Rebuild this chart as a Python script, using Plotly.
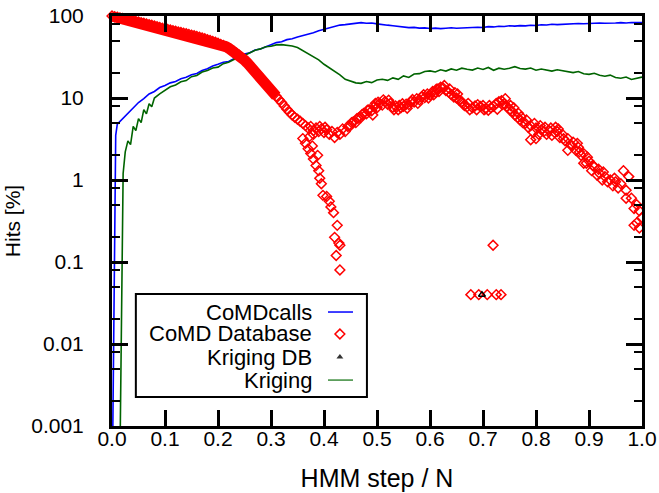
import plotly.graph_objects as go

# ── data ──
calls_x = [0.001, 0.003, 0.005, 0.007, 0.01, 0.02, 0.03, 0.04, 0.05, 0.06, 0.07, 0.08, 0.09,
           0.10, 0.11, 0.12, 0.13, 0.14, 0.15, 0.16, 0.17, 0.18, 0.19, 0.20, 0.21, 0.22, 0.23,
           0.24, 0.25, 0.26, 0.27, 0.28, 0.29, 0.30, 0.31, 0.32, 0.33, 0.34, 0.35, 0.36, 0.37,
           0.38, 0.39, 0.40, 0.41, 0.42, 0.43, 0.44, 0.45, 0.46, 0.47, 0.48, 0.49, 0.50, 0.51,
           0.52, 0.53, 0.54, 0.55, 0.56, 0.57, 0.58, 0.59, 0.60, 0.61, 0.62, 0.63, 0.64, 0.65,
           0.66, 0.67, 0.68, 0.69, 0.70, 0.71, 0.72, 0.73, 0.74, 0.75, 0.76, 0.77, 0.78, 0.79,
           0.80, 0.81, 0.82, 0.83, 0.84, 0.85, 0.86, 0.87, 0.88, 0.89, 0.90, 0.91, 0.92, 0.93,
           0.94, 0.95, 0.96, 0.97, 0.98, 0.99, 1.00]
calls_y = [0.0004, 0.02, 0.8, 3.5, 4.8, 5.6, 6.6, 7.5, 8.8, 9.8, 11.2, 12.0, 13.4,
           14.2, 15.3, 15.9, 17.2, 17.9, 19.2, 19.9, 21.6, 22.8, 24.6, 25.8, 27.3, 27.9, 30.2,
           31.8, 34.3, 35.7, 38.4, 39.6, 42.5, 44.6, 47.4, 48.6, 51.5, 52.7, 55.6, 57.5, 60.4,
           62.6, 66.3, 68.7, 72.4, 74.6, 77.5, 78.6, 80.6, 81.5, 83.0, 81.6, 82.3, 80.2, 79.4,
           77.3, 76.2, 74.4, 73.4, 72.2, 72.6, 71.2, 71.6, 70.3, 71.1, 70.2, 70.9, 71.8, 70.8,
           71.5, 72.3, 71.6, 73.0, 72.5, 74.1, 73.6, 75.0, 74.4, 76.1, 75.2, 76.3, 75.7, 77.2,
           76.6, 78.2, 77.6, 79.2, 78.6, 79.4, 80.2, 79.6, 81.1, 80.3, 81.2, 80.7, 82.1, 81.5,
           81.0, 82.2, 83.1, 82.0, 83.2, 82.3, 83.0]

krig_x = [0.015, 0.017, 0.019, 0.021, 0.025, 0.03, 0.035, 0.04, 0.045, 0.05, 0.055, 0.06, 0.065,
          0.07, 0.075, 0.08, 0.09, 0.10, 0.11, 0.12, 0.13, 0.14, 0.15, 0.16, 0.17, 0.18, 0.19,
          0.20, 0.21, 0.22, 0.23, 0.24, 0.25, 0.26, 0.27, 0.28, 0.29, 0.30, 0.31, 0.32, 0.33,
          0.34, 0.35, 0.36, 0.37, 0.38, 0.39, 0.40, 0.41, 0.42, 0.43, 0.44, 0.45, 0.46, 0.47,
          0.48, 0.49, 0.50, 0.51, 0.52, 0.53, 0.54, 0.55, 0.56, 0.57, 0.58, 0.59, 0.60, 0.61,
          0.62, 0.63, 0.64, 0.65, 0.66, 0.67, 0.68, 0.69, 0.70, 0.71, 0.72, 0.73, 0.74, 0.75,
          0.76, 0.77, 0.78, 0.79, 0.80, 0.81, 0.82, 0.83, 0.84, 0.85, 0.86, 0.87, 0.88, 0.89,
          0.90, 0.91, 0.92, 0.93, 0.94, 0.95, 0.96, 0.97, 0.98, 0.99, 1.00]
krig_y = [0.0004, 0.01, 0.4, 1.2, 2.2, 3.0, 2.7, 4.5, 4.0, 5.6, 5.0, 7.2, 6.4,
          8.5, 7.8, 10.0, 11.2, 12.4, 13.7, 14.4, 15.8, 16.3, 18.2, 18.8, 20.7, 21.6, 23.2,
          23.8, 26.2, 27.3, 29.4, 30.8, 33.2, 35.6, 38.3, 39.7, 42.2, 42.8, 44.4, 44.8, 44.2,
          43.0, 41.2, 37.8, 35.3, 31.7, 29.2, 25.8, 23.3, 20.8, 19.2, 16.9, 16.2, 15.3, 15.1,
          15.9, 15.4, 16.6, 16.9, 16.4, 17.6, 16.9, 18.6, 17.8, 19.6, 19.8, 21.1, 21.4, 20.8,
          22.1, 21.3, 22.6, 21.8, 23.1, 22.4, 21.9, 23.2, 22.3, 23.6, 21.8, 23.1, 22.4, 23.0,
          24.1, 22.9, 22.5, 23.2, 21.8, 22.6, 21.9, 21.3, 22.1, 21.4, 20.8, 20.4, 21.0, 19.8,
          19.4, 20.0, 18.9, 18.4, 19.0, 17.8, 17.4, 18.0, 16.8, 17.4, 18.0]

# CoMD Database: dense early band (x <= 0.36)
band_x = [0.000, 0.005, 0.010, 0.015, 0.020, 0.025, 0.030, 0.035, 0.040, 0.045, 0.050, 0.055,
          0.060, 0.065, 0.070, 0.075, 0.080, 0.085, 0.090, 0.095, 0.100, 0.105, 0.110, 0.115,
          0.120, 0.125, 0.130, 0.135, 0.140, 0.145, 0.150, 0.155, 0.160, 0.165, 0.170, 0.175,
          0.180, 0.185, 0.190, 0.195, 0.200, 0.205, 0.210, 0.215, 0.220, 0.225, 0.230, 0.235,
          0.240, 0.245, 0.250, 0.255, 0.260, 0.265, 0.270, 0.275, 0.280, 0.285, 0.290, 0.295,
          0.300, 0.305, 0.310, 0.315, 0.320, 0.325, 0.330, 0.335, 0.340, 0.345, 0.350, 0.355,
          0.360]
band_y = [100, 98, 97, 95, 93.5, 92, 90.5, 89, 87.5, 86, 84.5, 83,
          81.5, 80, 78.5, 77, 75.5, 74, 72.5, 71, 70, 68.8, 67.6, 66.4,
          65.2, 64, 62.9, 61.8, 60.7, 59.6, 58.5, 57.4, 56.3, 55.1, 53.9, 52.7,
          51.5, 50.3, 49.1, 47.8, 46.5, 45.1, 43.7, 42.2, 40.6, 38.9, 37.1, 35.2,
          33.2, 31.1, 29.0, 26.9, 24.9, 23.0, 21.2, 19.5, 17.9, 16.4, 15.0, 13.7,
          12.5, 11.5, 10.5, 9.6, 8.8, 8.0, 7.3, 6.7, 6.2, 5.8, 5.5, 5.2,
          4.9]

# CoMD Database: upper branch plus stray points around it
upper_x = [0.365, 0.370, 0.375, 0.380, 0.385, 0.390, 0.395, 0.400, 0.405, 0.410, 0.415, 0.420,
           0.425, 0.430, 0.435, 0.440, 0.445, 0.450, 0.455, 0.460, 0.465, 0.470, 0.475, 0.480,
           0.485, 0.490, 0.495, 0.500, 0.505, 0.510, 0.515, 0.520, 0.525, 0.530, 0.535, 0.540,
           0.545, 0.550, 0.555, 0.560, 0.565, 0.570, 0.575, 0.580, 0.585, 0.590, 0.595, 0.600,
           0.605, 0.610, 0.615, 0.620, 0.625, 0.630, 0.635, 0.640, 0.645, 0.650, 0.655, 0.660,
           0.665, 0.670, 0.675, 0.680, 0.685, 0.690, 0.695, 0.700, 0.705, 0.710, 0.715, 0.720,
           0.725, 0.730, 0.735, 0.740, 0.745, 0.750, 0.755, 0.760, 0.765, 0.770, 0.775, 0.780,
           0.785, 0.790, 0.795, 0.800, 0.805, 0.810, 0.815, 0.820, 0.825, 0.830, 0.835, 0.840,
           0.845, 0.850, 0.855, 0.860, 0.865, 0.870, 0.875, 0.880, 0.885, 0.890, 0.895, 0.900,
           0.905, 0.910, 0.915, 0.920, 0.925, 0.930, 0.935, 0.940, 0.945, 0.950, 0.955, 0.960,
           0.965, 0.970, 0.975, 0.980, 0.985, 0.990, 0.995, 1.000,
           0.373, 0.380, 0.790, 0.800, 0.860, 0.890, 0.985, 0.990, 0.995, 0.970,
           0.392, 0.402, 0.452, 0.497, 0.512, 0.548, 0.588, 0.612, 0.652, 0.688, 0.742, 0.758,
           0.772, 0.808, 0.828, 0.842, 0.868, 0.878, 0.918, 0.948,
           0.462, 0.472, 0.482, 0.492, 0.502, 0.522, 0.532, 0.542, 0.557, 0.567, 0.577, 0.597,
           0.607, 0.617, 0.627, 0.637, 0.647, 0.662, 0.672, 0.702, 0.712, 0.727, 0.737, 0.752,
           0.767, 0.782, 0.797, 0.817, 0.837, 0.852, 0.882, 0.897, 0.907, 0.927]
upper_y = [4.6, 4.3, 4.5, 4.0, 4.3, 3.9, 4.2, 3.8, 4.1, 3.6, 3.9, 3.3,
           3.8, 3.6, 4.2, 3.9, 4.5, 4.6, 5.1, 5.0, 5.7, 5.8, 6.5, 6.4,
           7.2, 7.0, 7.9, 7.6, 8.6, 8.2, 9.0, 8.4, 8.6, 7.7, 8.0, 7.2,
           7.6, 7.9, 8.4, 8.3, 9.1, 8.9, 9.8, 9.5, 10.4, 10.1, 11.2, 10.9,
           12.0, 11.7, 12.9, 13.5, 13.2, 12.3, 11.8, 11.0, 10.3, 10.0, 9.4, 9.0,
           8.1, 7.8, 7.2, 7.6, 8.0, 8.3, 7.9, 8.1, 7.4, 7.1, 7.6, 7.9,
           8.6, 9.0, 9.3, 8.5, 7.9, 7.2, 6.9, 6.2, 5.8, 5.4, 5.0, 4.9,
           4.4, 4.6, 3.8, 4.3, 3.6, 4.1, 3.9, 3.6, 4.0, 3.5, 3.8, 3.9,
           3.3, 3.6, 3.0, 3.2, 2.7, 2.9, 2.3, 2.5, 2.0, 2.1, 1.6, 1.7,
           1.3, 1.45, 1.15, 1.2, 1.0, 1.1, 0.95, 1.0, 0.85, 0.95, 0.8, 0.9,
           1.3, 0.75, 1.1, 0.6, 0.45, 0.3, 0.26, 0.35,
           3.4, 3.6, 3.1, 3.2, 2.3, 1.6, 0.28, 0.5, 0.42, 0.6,
           4.5, 4.4, 5.0, 8.6, 9.5, 8.5, 11.0, 12.8, 11.2, 7.2, 9.8, 7.6,
           5.9, 4.6, 4.3, 4.2, 2.6, 2.8, 1.35, 1.05,
           5.6, 6.3, 7.1, 6.2, 8.9, 9.4, 7.2, 8.1, 7.5, 9.6, 8.6, 10.0,
           10.9, 12.0, 14.2, 12.9, 11.6, 8.5, 8.6, 7.2, 8.1, 7.3, 8.3, 8.1,
           6.5, 5.4, 4.9, 4.4, 4.4, 3.2, 2.2, 1.9, 1.5, 1.25]

# CoMD Database: lower branch falling towards 0.1 %
lower_x = [0.360, 0.365, 0.370, 0.375, 0.380, 0.385, 0.390, 0.392, 0.395, 0.398, 0.405, 0.410,
           0.413, 0.418, 0.425, 0.420, 0.430, 0.423, 0.430, 0.428, 0.378, 0.388]
lower_y = [3.2, 2.8, 2.4, 2.1, 1.8, 1.5, 1.3, 1.05, 0.9, 0.65, 0.63, 0.55,
           0.47, 0.40, 0.28, 0.20, 0.16, 0.12, 0.08, 0.17, 2.6, 2.0]

# CoMD Database: isolated hits near 0.7
lone_x = [0.719, 0.677, 0.692, 0.708, 0.725, 0.734]
lone_y = [0.16, 0.04, 0.04, 0.04, 0.04, 0.04]

kdb_x = [0.698]
kdb_y = [0.04]

ytick_vals = [0.001, 0.01, 0.1, 1, 10, 100]
ytick_text = ["0.001", "0.01", "0.1", "1", "10", "100"]
yminor_vals = [m * d for d in [0.001, 0.01, 0.1, 1, 10] for m in (2, 5, 8)]

legend_names = ["CoMDcalls", "CoMD Database", "Kriging DB", "Kriging"]

FONT = "Liberation Sans, Arial, sans-serif"
BLUE = "#0000ff"
RED = "#ff0000"
GREEN = "#006400"

db_marker = dict(symbol="diamond-open", size=7.5, color=RED, line=dict(width=1.5))

fig = go.Figure()
fig.add_trace(go.Scatter(x=calls_x, y=calls_y, mode="lines", line=dict(color=BLUE, width=1.6)))
fig.add_trace(go.Scatter(x=krig_x, y=krig_y, mode="lines", line=dict(color=GREEN, width=1.6)))
# the early part of the database curve is so dense it reads as a solid stripe
fig.add_trace(go.Scatter(x=band_x[:-10], y=band_y[:-10], mode="lines", cliponaxis=False,
                         line=dict(color=RED, width=11)))
fig.add_trace(go.Scatter(x=band_x, y=band_y, mode="markers", cliponaxis=False, marker=db_marker))
fig.add_trace(go.Scatter(x=upper_x, y=upper_y, mode="markers", marker=db_marker))
fig.add_trace(go.Scatter(x=lower_x, y=lower_y, mode="markers", marker=db_marker))
fig.add_trace(go.Scatter(x=lone_x, y=lone_y, mode="markers", marker=db_marker))
fig.add_trace(go.Scatter(x=kdb_x, y=kdb_y, mode="markers",
                         marker=dict(symbol="triangle-up-open", size=6, color="black", line=dict(width=1.5))))

# gnuplot-style legend box (text right, sample left)
lx0, lx1, ly0, ly1 = 0.045, 0.481, 0.071, 0.322
row_y = [0.278, 0.2244, 0.168, 0.112]
fig.add_shape(type="rect", xref="paper", yref="paper", x0=lx0, x1=lx1, y0=ly0, y1=ly1,
              line=dict(color="black", width=2), layer="above")
for name, yy in zip(legend_names, row_y):
    fig.add_annotation(x=0.379, y=yy, xref="paper", yref="paper", text=name, showarrow=False,
                       xanchor="right", yanchor="middle", borderpad=0,
                       font=dict(size=22, color="black", family=FONT))
fig.add_shape(type="line", xref="paper", yref="paper", x0=0.4075, x1=0.4547, y0=row_y[0], y1=row_y[0],
              line=dict(color=BLUE, width=1.5), layer="above")
fig.add_shape(type="line", xref="paper", yref="paper", x0=0.4075, x1=0.4547, y0=row_y[3], y1=row_y[3],
              line=dict(color="#3a8a3a", width=1.5), layer="above")
fig.add_trace(go.Scatter(x=[0.430], y=[row_y[1]], xaxis="x2", yaxis="y2", mode="markers", marker=db_marker))
fig.add_trace(go.Scatter(x=[0.430], y=[row_y[2]], xaxis="x2", yaxis="y2", mode="markers",
                         marker=dict(symbol="triangle-up", size=6, color="#333333")))

axis_common = dict(showline=True, linecolor="black", linewidth=3, mirror="allticks",
                   ticks="inside", ticklen=16, tickwidth=3, tickcolor="black",
                   showgrid=False, zeroline=False, automargin=False,
                   tickfont=dict(size=21, color="black", family=FONT))

fig.update_layout(
    width=659, height=493,
    margin=dict(l=112, r=17, t=16, b=67),
    plot_bgcolor="white", paper_bgcolor="white",
    showlegend=False,
    xaxis=dict(range=[0, 1], dtick=0.1, tickformat=".1f", ticklabelstandoff=-8,
               title=dict(text="HMM step / N", standoff=21,
                          font=dict(size=25, color="black", family=FONT)), **axis_common),
    yaxis=dict(type="log", range=[-3, 2], tickvals=ytick_vals, ticktext=ytick_text,
               ticklabelstandoff=21,
               minor=dict(tickmode="array", tickvals=yminor_vals, ticks="inside",
                          ticklen=8, tickwidth=2, tickcolor="black"),
               title=dict(text="Hits [%]", standoff=5,
                          font=dict(size=21, color="black", family=FONT)), **axis_common),
    xaxis2=dict(overlaying="x", range=[0, 1], visible=False),
    yaxis2=dict(overlaying="y", range=[0, 1], visible=False),
)

fig.write_html("out.html", config={"displayModeBar": False},
               post_script="document.body.style.margin = '0';")
